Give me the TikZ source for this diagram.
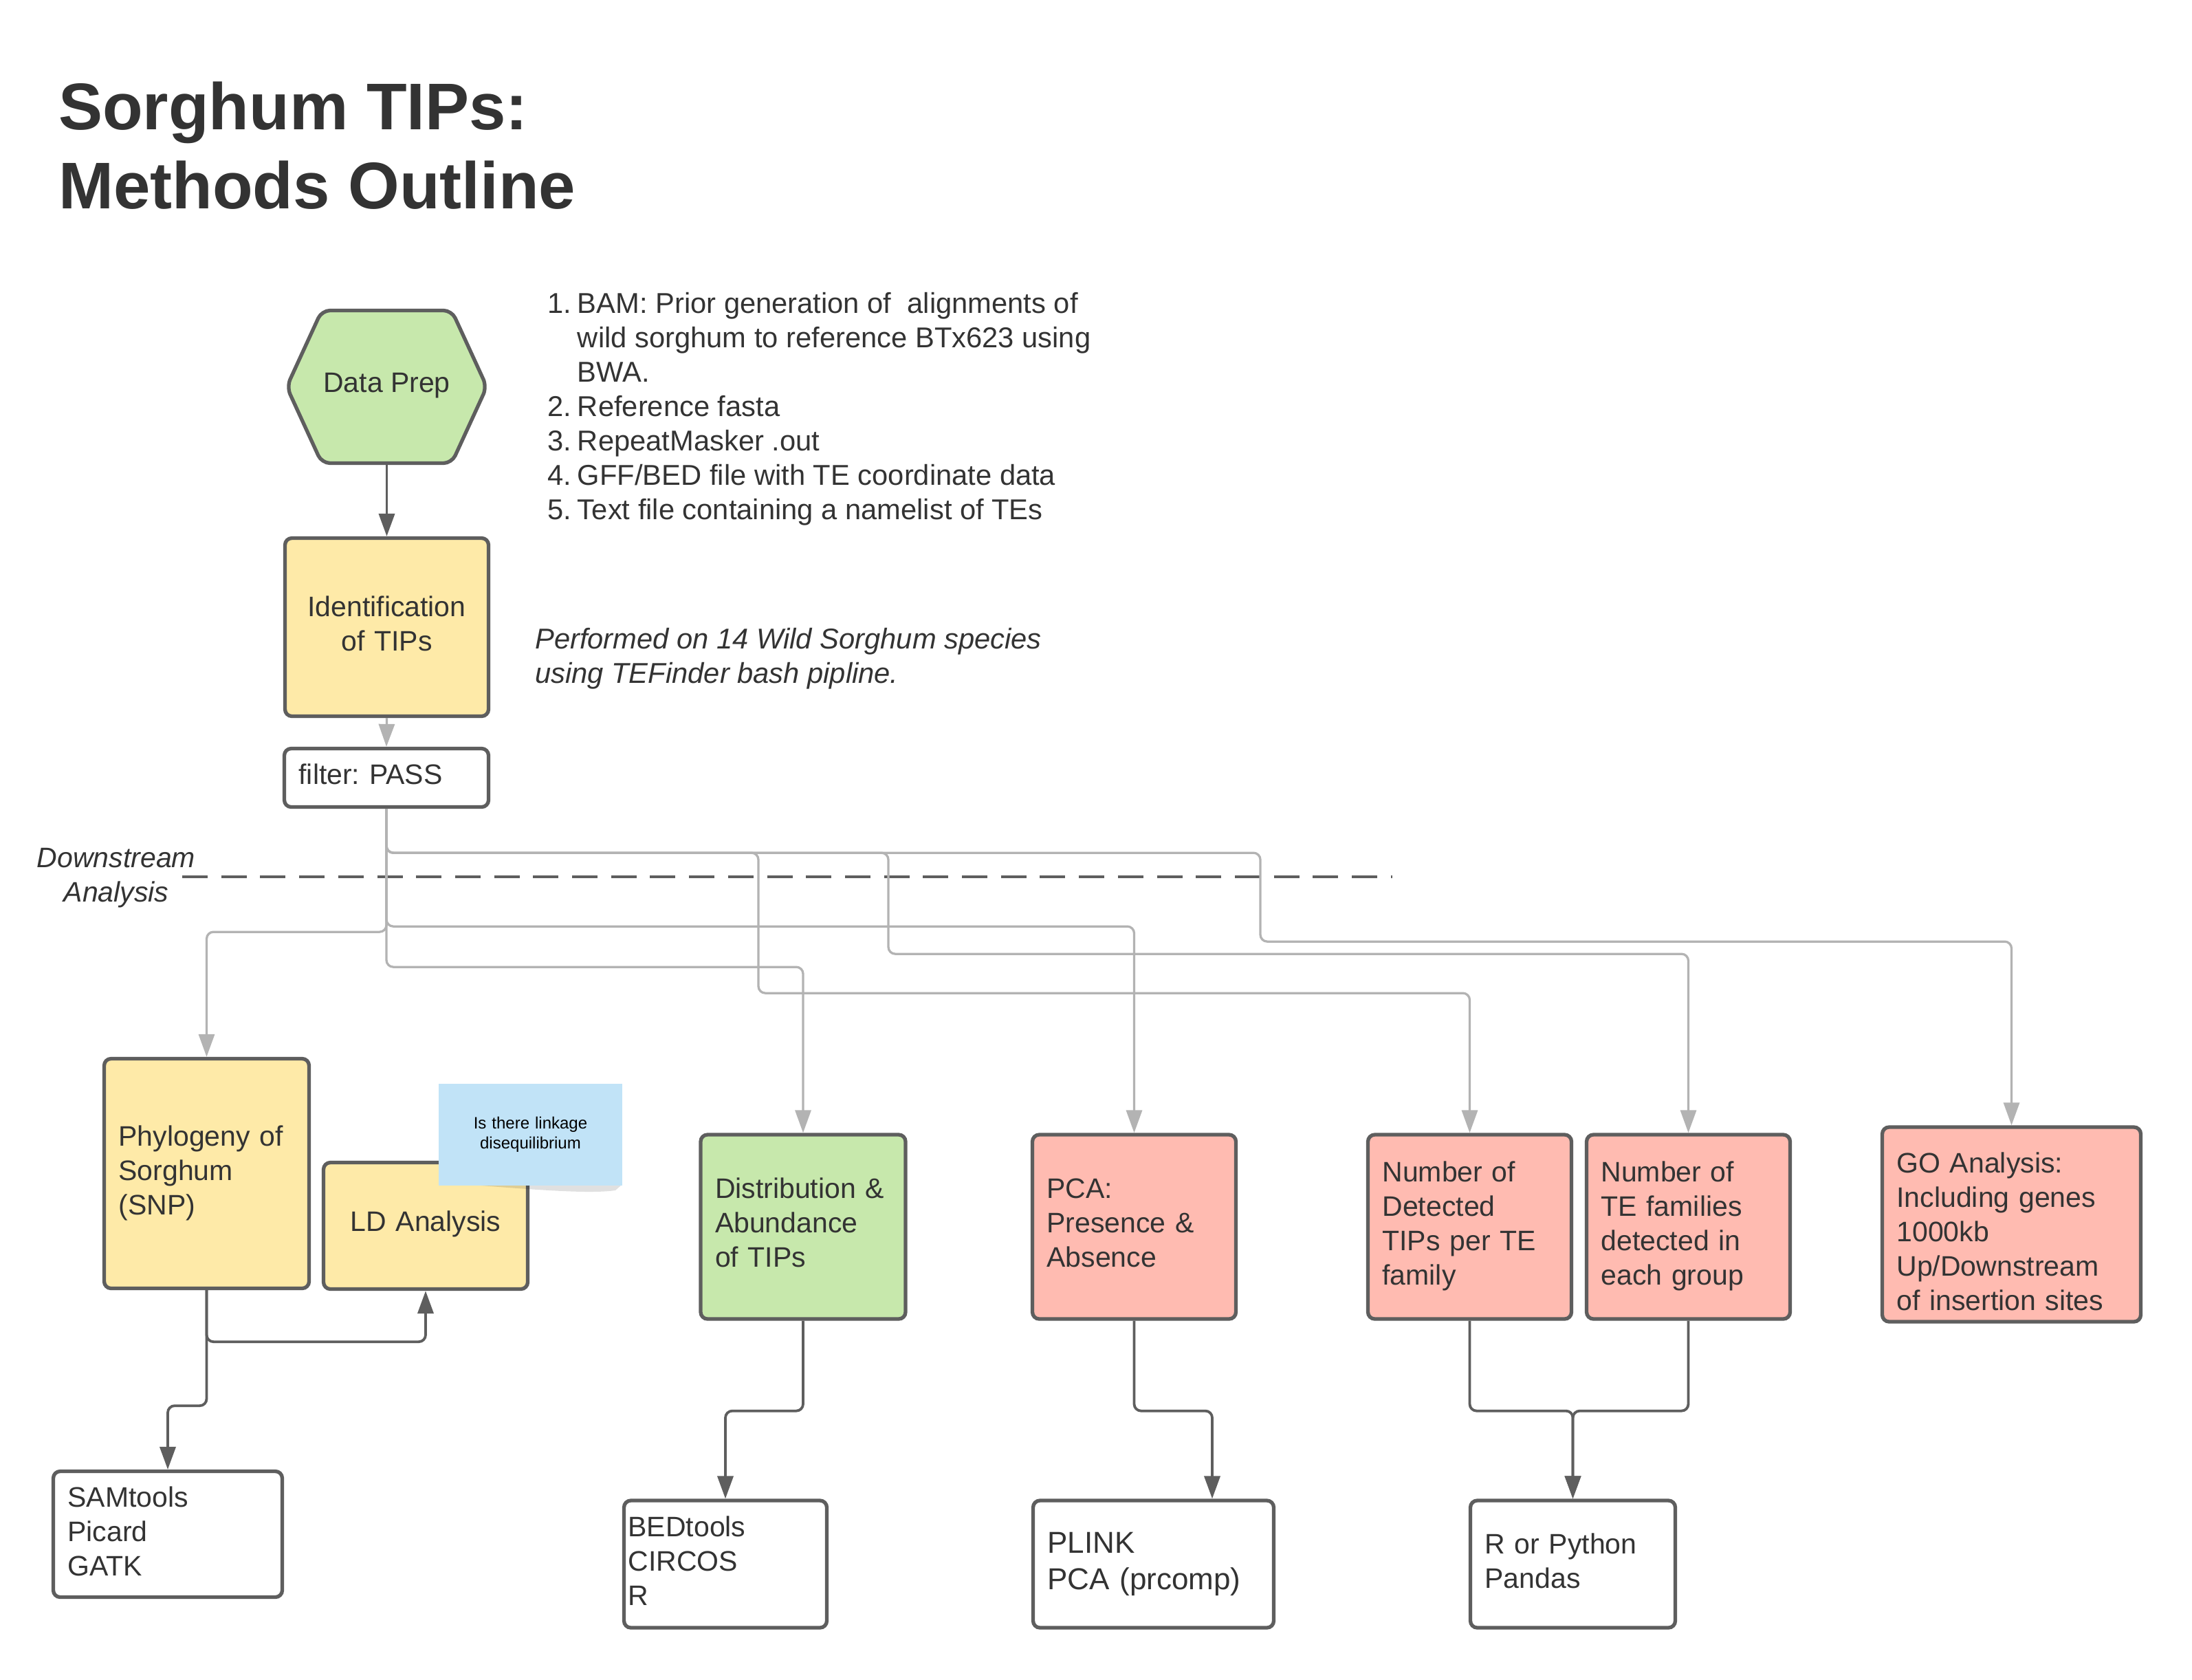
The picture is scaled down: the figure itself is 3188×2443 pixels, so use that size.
\documentclass[tikz,border=0pt]{standalone}
\usepackage{fontspec}
\setmainfont{Liberation Sans}
\usetikzlibrary{arrows.meta}
\definecolor{bordc}{HTML}{5E5E5E}
\definecolor{grayc}{HTML}{B3B3B3}
\definecolor{txtc}{HTML}{333333}
\definecolor{yelc}{HTML}{FEEAA8}
\definecolor{grnc}{HTML}{C7E8AC}
\definecolor{redc}{HTML}{FFBBB1}
\definecolor{bluc}{HTML}{C1E3F7}
\newcommand{\myBody}{\fontsize{41}{50}\selectfont}
\newcommand{\myList}{\fontsize{41.7}{50}\selectfont}
\newcommand{\myBig}{\fontsize{44}{53}\selectfont}
\newcommand{\myTitle}{\fontsize{96}{115}\selectfont\bfseries}
\newcommand{\myNote}{\fontsize{24}{29}\selectfont}
\newcommand{\myA}{\rule{0pt}{36pt}}
\newcommand{\myAA}{\rule{0pt}{33pt}}
\newcommand{\myB}{\rule[-17pt]{0pt}{17pt}}
\frenchspacing
\begin{document}
\begin{tikzpicture}[x=1pt,y=-1pt,
  box/.style={draw=bordc, line width=5.3pt, rounded corners=10pt, inner sep=0pt, font=\myBody, text=txtc},
  lbox/.style={box, align=left, text width=#1},
  cbox/.style={box, align=center, text width=#1},
  garrow/.style={draw=grayc, line width=3.3pt, rounded corners=10pt, -{Triangle[length=33pt,width=23pt]}},
  darrow/.style={draw=bordc, line width=3.8pt, rounded corners=10pt, -{Triangle[length=33pt,width=23pt]}},
  dashline/.style={draw=bordc, line width=3.6pt, dash pattern=on 37pt off 19.7pt},
  plain/.style={inner sep=0pt, text=txtc}]
\useasboundingbox (0,0) rectangle (3188,2443);
\fill[white] (0,0) rectangle (3188,2443);

% title and side texts
\node[plain, anchor=base west, font=\myTitle] (title) at (85,189)
  {\begin{tabular}[t]{@{}l@{}}Sorghum TIPs:\\Methods Outline\end{tabular}};
\node[plain, anchor=base west, font=\myList] (list) at (796,455)
  {\begin{tabular}[t]{@{}r@{\hspace{9pt}}l@{}}
  1.& BAM: Prior generation of~ alignments of\\
    & wild sorghum to reference BTx623 using\\
    & BWA.\\
  2.& Reference fasta\\
  3.& RepeatMasker .out\\
  4.& GFF/BED file with TE coordinate data\\
  5.& Text file containing a namelist of TEs
  \end{tabular}};
\node[plain, anchor=base west, font=\myList\itshape] (perf) at (778,943)
  {\begin{tabular}[t]{@{}l@{}}Performed on 14 Wild Sorghum species\\using TEFinder bash pipline.\end{tabular}};
\node[plain, font=\myBody\itshape, align=center] (down) at (169,1277) {Downstream\\Analysis};

% hexagon
\filldraw[fill=grnc, draw=bordc, line width=5.3pt, rounded corners=12pt]
  (417,562.5) -- (468,451.5) -- (657,451.5) -- (708,562.5) -- (657,673.5) -- (468,673.5) -- cycle;
\node[plain, font=\myBody, minimum width=295pt, minimum height=227pt] (prep) at (562.5,562.5) {\myAA Data Prep\myB};

% main boxes
\node[cbox=254pt, fill=yelc, minimum width=296pt, minimum height=259pt] (ident) at (562.5,912) {\myA Identification\\of TIPs\myB};
\node[lbox=255pt, fill=white, minimum width=297pt, minimum height=85pt] (filter) at (562,1131) {\myA filter: PASS\myB};

\node[lbox=256pt, fill=yelc, minimum width=298pt, minimum height=334pt] (phylo) at (300.5,1706.5) {\myA Phylogeny of\\Sorghum\\(SNP)\myB};
\node[cbox=255pt, fill=yelc, minimum width=297pt, minimum height=184pt] (ld) at (619,1782.5) {\myAA LD Analysis\myB};
\fill[black, opacity=0.12] (700,1724) .. controls (790,1731) and (860,1736) .. (895,1731) -- (903,1724) -- cycle;
\node[fill=bluc, minimum width=267pt, minimum height=148pt, inner sep=0pt, align=center, text width=230pt, font=\myNote, text=black] (note) at (771.5,1650) {Is there linkage\\disequilibrium};

\node[lbox=256pt, fill=grnc, minimum width=298pt, minimum height=268pt] (dist) at (1168,1784) {\myAA Distribution \&\\Abundance\\of TIPs\myB};
\node[lbox=254pt, fill=redc, minimum width=296pt, minimum height=268pt] (pca) at (1649.5,1784) {\myAA PCA:\\Presence \&\\Absence\myB};
\node[lbox=254pt, fill=redc, minimum width=296pt, minimum height=268pt] (det) at (2137.5,1784) {\myA Number of\\Detected\\TIPs per TE\\family\myB};
\node[lbox=254pt, fill=redc, minimum width=296pt, minimum height=268pt] (fam) at (2455.5,1784) {\myA Number of\\TE families\\detected in\\each group\myB};
\node[lbox=334pt, fill=redc, minimum width=376pt, minimum height=266pt] (go) at (2925.5,1780.5) {\rule{0pt}{66pt}GO Analysis:\\Including genes\\1000kb\\Up/Downstream\\of insertion sites\myB};

% tool boxes
\node[lbox=291pt, fill=white, minimum width=333pt, minimum height=183pt] (sam) at (244,2231) {\rule{0pt}{38pt}SAMtools\\Picard\\GATK\myB};
\node[lbox=283pt, fill=white, minimum width=295pt, minimum height=185pt] (bed) at (1055,2274.5) {\rule{0pt}{37pt}BEDtools\\CIRCOS\\R\myB};
\node[lbox=308pt, fill=white, minimum width=350pt, minimum height=185pt, font=\myBig] (plink) at (1677.5,2274.5) {\rule{0pt}{37pt}PLINK\\PCA (prcomp)\myB};
\node[lbox=256pt, fill=white, minimum width=298pt, minimum height=185pt] (rpy) at (2287.5,2274.5) {\rule{0pt}{37pt}R or Python\\Pandas\myB};

% dashed separator
\coordinate (dashA) at (265,1275);
\coordinate (dashB) at (2025,1275);
\draw[dashline] (dashA) -- (dashB);

% connectors
\draw[darrow] (prep.south) -- (ident.north);
\draw[garrow] (ident.south) -- (filter.north);
\draw[garrow] (filter.south) -- ++(0,64) -| ++(1271,129) -| (go.north);
\draw[garrow] (filter.south) -- ++(0,64) -| ++(730,147) -| (fam.north);
\draw[garrow] (filter.south) -- ++(0,64) -| ++(541,204) -| (det.north);
\draw[garrow] (filter.south) -- ++(0,230) -| (dist.north);
\draw[garrow] (filter.south) -- ++(0,171) -| (pca.north);
\draw[garrow] (filter.south) -- ++(0,179) -| (phylo.north);

\draw[darrow] (phylo.south) -- ++(0,75) -| (ld.south);
\draw[darrow] (phylo.south) -- ++(0,168) -| (sam.north);
\draw[darrow] (dist.south) -- ++(0,131) -| (bed.north);
\draw[darrow] (pca.south) -- ++(0,131) -| ([xshift=85.5pt]plink.north);
\draw[darrow] (det.south) -- ++(0,131) -| (rpy.north);
\draw[darrow] (fam.south) -- ++(0,131) -| (rpy.north);
\end{tikzpicture}
\end{document}
